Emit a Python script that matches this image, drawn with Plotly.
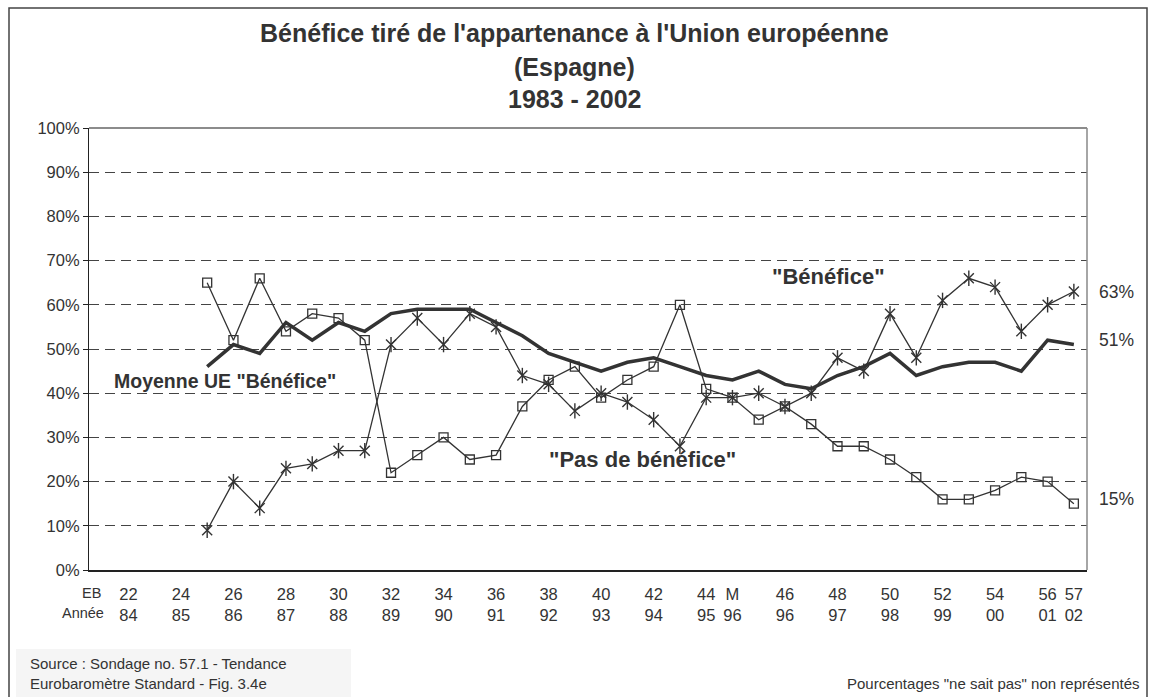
import plotly.graph_objects as go

# ---- categories (Eurobarometer waves) ----
eb_codes = [str(n) for n in range(21, 45)] + ["M"] + [str(n) for n in range(45, 58)]

# labelled waves and their years
tick_eb = ["22", "24", "26", "28", "30", "32", "34", "36", "38", "40", "42", "44", "M",
           "46", "48", "50", "52", "54", "56", "57"]
tick_year = ["84", "85", "86", "87", "88", "89", "90", "91", "92", "93", "94", "95", "96",
             "96", "97", "98", "99", "00", "01", "02"]

# ---- series (percent) ----
benefice = [None, None, None, None,
            9, 20, 14, 23, 24, 27, 27, 51, 57, 51, 58, 55, 44, 42, 36, 40, 38, 34, 28,
            39, 39, 40, 37, 40, 48, 45, 58, 48, 61, 66, 64, 54, 60, 63]
pas_benefice = [None, None, None, None,
                65, 52, 66, 54, 58, 57, 52, 22, 26, 30, 25, 26, 37, 43, 46, 39, 43, 46, 60,
                41, 39, 34, 37, 33, 28, 28, 25, 21, 16, 16, 18, 21, 20, 15]
moyenne_ue = [None, None, None, None,
              46, 51, 49, 56, 52, 56, 54, 58, 59, 59, 59, 56, 53, 49, 47, 45, 47, 48, 46,
              44, 43, 45, 42, 41, 44, 46, 49, 44, 46, 47, 47, 45, 52, 51]

y_ticks = list(range(0, 101, 10))

x_idx = list(range(len(eb_codes)))
FONT = "Liberation Sans, Arial, sans-serif"
INK = "#333333"

fig = go.Figure()

fig.add_trace(go.Scatter(
    x=x_idx, y=moyenne_ue, mode="lines", name="Moyenne UE",
    line=dict(color=INK, width=3.5), connectgaps=False, showlegend=False,
    hoverinfo="skip"))
fig.add_trace(go.Scatter(
    x=x_idx, y=pas_benefice, mode="lines+markers", name="Pas de bénéfice",
    line=dict(color=INK, width=1.3),
    marker=dict(symbol="square-open", size=9, color=INK, line=dict(width=1.3, color=INK)),
    showlegend=False, hoverinfo="skip"))
# Excel-style star marker: an X plus a vertical bar
fig.add_trace(go.Scatter(
    x=x_idx, y=benefice, mode="lines+markers", name="Bénéfice",
    line=dict(color=INK, width=1.3),
    marker=dict(symbol="x-thin-open", size=10, color=INK, line=dict(width=1.4, color=INK)),
    showlegend=False, hoverinfo="skip"))
fig.add_trace(go.Scatter(
    x=x_idx, y=benefice, mode="markers", name="Bénéfice",
    marker=dict(symbol="line-ns-open", size=11, color=INK, line=dict(width=1.4, color=INK)),
    showlegend=False, hoverinfo="skip"))

n = len(eb_codes)
boundaries = [i - 0.5 for i in range(n + 1)]

fig.update_layout(
    width=1152, height=697,
    margin=dict(l=89, r=65, t=128, b=127, autoexpand=False),
    paper_bgcolor="white", plot_bgcolor="white",
    font=dict(family=FONT, color=INK, size=16),
    xaxis=dict(
        range=[-0.5, n - 0.5],
        tickmode="array",
        tickvals=[eb_codes.index(e) for e in tick_eb],
        ticktext=[f"{e}<br>{y}" for e, y in zip(tick_eb, tick_year)],
        ticks="outside", ticklen=8, tickcolor="rgba(0,0,0,0)",
        showgrid=False, zeroline=False,
        showline=True, linecolor="#222", linewidth=1.5,
        tickfont=dict(size=16.5, family=FONT, color=INK),
    ),
    xaxis2=dict(
        overlaying="x", anchor="y", side="bottom",
        range=[-0.5, n - 0.5],
        tickmode="array", tickvals=boundaries,
        ticks="outside", ticklen=5, tickcolor="#222", tickwidth=1,
        showticklabels=False, showgrid=False, zeroline=False, showline=False,
    ),
    yaxis=dict(
        range=[0, 100],
        tickmode="array", tickvals=y_ticks,
        ticktext=[f"{v}%" for v in y_ticks],
        ticks="outside", ticklen=5, tickcolor="#222",
        showgrid=True, gridcolor="#444", gridwidth=1, griddash="10px,6px",
        zeroline=False,
        showline=True, linecolor="#222", linewidth=1.2,
        tickfont=dict(size=16.5, family=FONT, color=INK),
    ),
)

W, H = 998.0, 442.0
def px_x(p):
    return (p - 89) / W
def px_y(p):
    return (570 - p) / H

shapes = [
    # outer frame
    dict(type="rect", xref="paper", yref="paper",
         x0=px_x(9), x1=px_x(1147), y0=px_y(705), y1=px_y(8),
         line=dict(color="#444", width=1.5), fillcolor="rgba(0,0,0,0)", layer="below"),
    # source box
    dict(type="rect", xref="paper", yref="paper",
         x0=px_x(16), x1=px_x(351), y0=px_y(705), y1=px_y(649),
         line=dict(width=0), fillcolor="#f5f5f5", layer="below"),
    # plot-area border top and right
    dict(type="line", xref="paper", yref="paper", x0=0, x1=1, y0=1, y1=1,
         line=dict(color="#666", width=1.5)),
    dict(type="line", xref="paper", yref="paper", x0=1, x1=1, y0=0, y1=1,
         line=dict(color="#888", width=1.5)),
]
fig.update_layout(shapes=shapes)

ann = []
title_lines = ["Bénéfice tiré de l'appartenance à l'Union européenne", "(Espagne)", "1983 - 2002"]
for txt, py in zip(title_lines, [33, 67, 99]):
    ann.append(dict(text=f"<b>{txt}</b>", xref="paper", yref="paper",
                    x=px_x(574), y=px_y(py), xanchor="center", yanchor="middle",
                    showarrow=False, font=dict(size=25, family=FONT, color=INK)))

# axis caption for EB / year rows
ann.append(dict(text="EB", xref="paper", yref="paper", x=px_x(91), y=px_y(593),
                xanchor="center", yanchor="middle", showarrow=False,
                font=dict(size=14.5, family=FONT, color=INK)))
ann.append(dict(text="Année", xref="paper", yref="paper", x=px_x(83), y=px_y(613),
                xanchor="center", yanchor="middle", showarrow=False,
                font=dict(size=14.5, family=FONT, color=INK)))

# series labels
ann.append(dict(text='<b>Moyenne UE "Bénéfice"</b>', xref="x", yref="y", x=0.38, y=42.8,
                xanchor="left", yanchor="middle", showarrow=False,
                font=dict(size=19.5, family=FONT, color=INK)))
ann.append(dict(text='<b>"Pas de bénéfice"</b>', xref="x", yref="y", x=16.94, y=24.9,
                xanchor="left", yanchor="middle", showarrow=False,
                font=dict(size=22, family=FONT, color=INK)))
ann.append(dict(text='<b>"Bénéfice"</b>', xref="x", yref="y", x=25.43, y=66.5,
                xanchor="left", yanchor="middle", showarrow=False,
                font=dict(size=22, family=FONT, color=INK)))

# end values
for series, dy in [(benefice, 0), (moyenne_ue, 1), (pas_benefice, 1)]:
    v = series[-1]
    ann.append(dict(text=f"{v}%", xref="paper", yref="y", x=px_x(1097), y=v + dy,
                    xanchor="left", yanchor="middle", showarrow=False,
                    font=dict(size=17.5, family=FONT, color=INK)))

# footnotes
ann.append(dict(text="Source : Sondage no. 57.1 - Tendance<br>Eurobaromètre Standard - Fig. 3.4e",
                xref="paper", yref="paper", x=px_x(28), y=px_y(673),
                xanchor="left", yanchor="middle", align="left", showarrow=False,
                font=dict(size=15, family=FONT, color=INK)))
ann.append(dict(text='Pourcentages "ne sait pas" non représentés',
                xref="paper", yref="paper", x=px_x(1142), y=px_y(683),
                xanchor="right", yanchor="middle", showarrow=False,
                font=dict(size=15, family=FONT, color=INK)))

fig.update_layout(annotations=ann)

fig.write_html("out.html",
               config={"displayModeBar": False},
               post_script="document.body.style.margin='0';document.body.style.overflow='hidden';")
